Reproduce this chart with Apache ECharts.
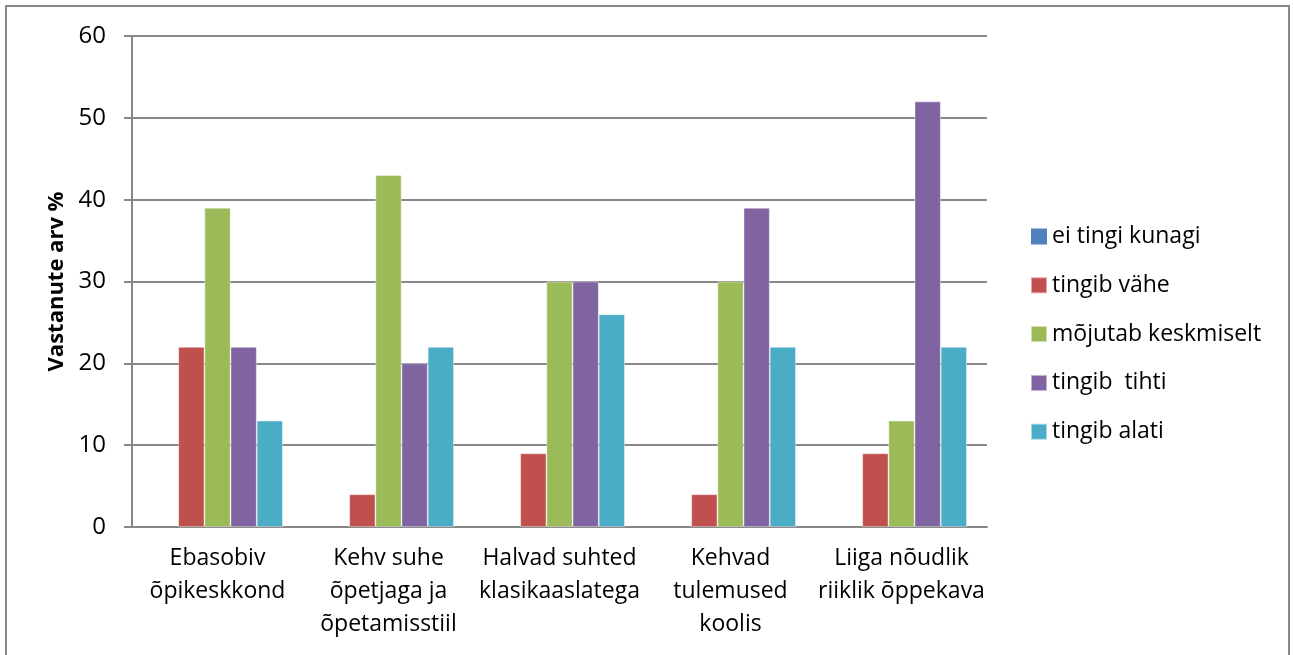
<!DOCTYPE html>
<html>
<head>
<meta charset="utf-8">
<script src="https://cdn.jsdelivr.net/npm/echarts@6/dist/echarts.min.js"></script>
<style>
html,body{margin:0;padding:0;background:#fff;}
#c{width:1293px;height:655px;}
</style>
</head>
<body>
<div id="c"></div>
<script>
const categories = [
  "Ebasobiv\nõpikeskkond",
  "Kehv suhe\nõpetjaga ja\nõpetamisstiil",
  "Halvad suhted\nklasikaaslatega",
  "Kehvad\ntulemused\nkoolis",
  "Liiga nõudlik\nriiklik õppekava"
];
const seriesNames = ["ei tingi kunagi", "tingib vähe", "mõjutab keskmiselt", "tingib  tihti", "tingib alati"];
const eiTingiKunagi = [0, 0, 0, 0, 0];
const tingibVahe = [22, 4, 9, 4, 9];
const mojutabKeskmiselt = [39, 43, 30, 30, 13];
const tingibTihti = [22, 20, 30, 39, 52];
const tingibAlati = [13, 22, 26, 22, 22];
const yAxisName = "Vastanute arv %";
const colors = ["#4F81BD", "#C0504D", "#9BBB59", "#8064A2", "#4BACC6"];

const dataSets = [eiTingiKunagi, tingibVahe, mojutabKeskmiselt, tingibTihti, tingibAlati];
const font = "'Open Sans', 'Noto Sans', sans-serif";

const chart = echarts.init(document.getElementById('c'), null, {renderer: 'canvas'});
chart.setOption({
  animation: false,
  color: colors,
  graphic: [{
    type: 'rect',
    shape: {x: 6, y: 6, width: 1283, height: 660},
    style: {fill: 'none', stroke: '#888888', lineWidth: 2},
    silent: true
  }],
  grid: {left: 132, right: 306, top: 36, bottom: 128, containLabel: false},
  legend: {
    orient: 'vertical',
    left: 1025,
    top: 220,
    itemWidth: 16,
    itemHeight: 16,
    itemGap: 25.8,
    icon: 'rect',
    textStyle: {fontFamily: font, fontSize: 23, lineHeight: 20, color: '#000'},
    data: seriesNames
  },
  xAxis: {
    type: 'category',
    data: categories,
    axisLine: {lineStyle: {color: '#888888', width: 2}},
    axisTick: {show: false},
    axisLabel: {
      fontFamily: font, fontSize: 23, color: '#000', lineHeight: 33,
      margin: 15, interval: 0, align: 'center'
    }
  },
  yAxis: {
    type: 'value',
    min: 0, max: 60, interval: 10,
    name: yAxisName,
    nameLocation: 'middle',
    nameGap: 61,
    nameRotate: 90,
    nameTextStyle: {fontFamily: font, fontSize: 22, fontWeight: 'bold', color: '#000'},
    axisLine: {show: true, lineStyle: {color: '#888888', width: 2}},
    axisTick: {show: true, length: 8, lineStyle: {color: '#888888', width: 2}},
    axisLabel: {fontFamily: font, fontSize: 24, color: '#000', margin: 26},
    splitLine: {lineStyle: {color: '#888888', width: 2}}
  },
  series: dataSets.map((d, i) => ({
    name: seriesNames[i],
    type: 'bar',
    data: d,
    barGap: '0%',
    barCategoryGap: '23.5%',
    itemStyle: {borderColor: 'rgba(255,255,255,0.5)', borderWidth: i === 0 ? 0 : 0.8}
  }))
});
</script>
</body>
</html>
